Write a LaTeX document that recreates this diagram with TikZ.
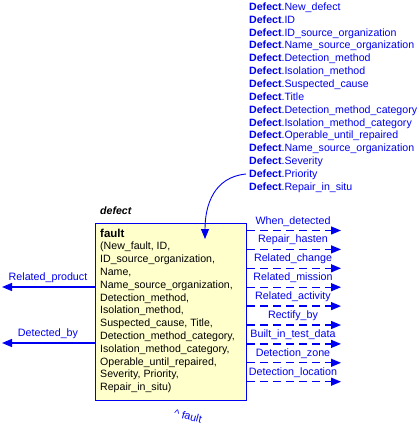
\documentclass[tikz,border=0pt]{standalone}
\usepackage{fontspec}
\setmainfont{Liberation Sans}
\usetikzlibrary{arrows.meta}
\definecolor{lblue}{RGB}{0,0,240}
\definecolor{boxfill}{RGB}{255,255,204}
\begin{document}
\begin{tikzpicture}[x=1pt,y=-1pt,
  lbl/.style={text=lblue,font=\fontsize{10.7}{12}\selectfont,inner sep=0pt},
  rel/.style={draw=lblue,line width=1.3pt,-{Triangle[length=10pt,width=8pt]}},
  drel/.style={rel,dash pattern=on 8pt off 5pt}]
\useasboundingbox (0,0) rectangle (419,429);
\node[draw=lblue,line width=1.3pt,fill=boxfill,anchor=north west,minimum width=151pt,minimum height=177pt,inner sep=0pt] (box) at (95,223) {};
\node[anchor=north west,align=left,inner sep=0pt,font=\fontsize{10.6}{12.8}\selectfont] (boxtxt) at (100,228.5)
 {\textbf{\fontsize{11.5}{12.8}\selectfont fault}\\(New\_fault, ID,\\ID\_source\_organization,\\Name,\\Name\_source\_organization,\\Detection\_method,\\Isolation\_method,\\Suspected\_cause, Title,\\Detection\_method\_category,\\Isolation\_method\_category,\\Operable\_until\_repaired,\\Severity, Priority,\\Repair\_in\_situ)};
\node[anchor=west,inner sep=0pt,font=\fontsize{10.6}{12}\selectfont\bfseries\itshape] (ename) at (100,211) {defect};
\node[anchor=north west,align=left,inner sep=0pt,text=lblue,font=\fontsize{10.6}{12.86}\selectfont] (attrs) at (249,2.5)
 {\textbf{Defect}.New\_defect\\\textbf{Defect}.ID\\\textbf{Defect}.ID\_source\_organization\\\textbf{Defect}.Name\_source\_organization\\\textbf{Defect}.Detection\_method\\\textbf{Defect}.Isolation\_method\\\textbf{Defect}.Suspected\_cause\\\textbf{Defect}.Title\\\textbf{Defect}.Detection\_method\_category\\\textbf{Defect}.Isolation\_method\_category\\\textbf{Defect}.Operable\_until\_repaired\\\textbf{Defect}.Name\_source\_organization\\\textbf{Defect}.Severity\\\textbf{Defect}.Priority\\\textbf{Defect}.Repair\_in\_situ};
\coordinate (cs) at (246,174);
\coordinate (ce) at (205,239);
\draw[draw=lblue,line width=0.9pt,-{Triangle[length=10pt,width=8pt]}] (cs) .. controls (214,177) and (205,205) .. (ce);
% right side
\foreach \i/\y/\t in {1/230.5/When\_detected,2/249.4/Repair\_hasten,3/268.3/Related\_change,4/287.2/Related\_mission,5/306.1/Related\_activity,6/325/Rectify\_by,7/343.9/Built\_in\_test\_data,8/362.8/Detection\_zone,9/381.7/Detection\_location}{
  \coordinate (r\i) at (341,\y);
  \draw[drel] (box.east |- r\i) -- (r\i);
  \node[lbl,anchor=base] (rl\i) at (293,\y-6.5) {\t};
}
% left side
\coordinate (l1) at (2,287);
\coordinate (l2) at (2,343);
\draw[rel] (box.west |- l1) -- (l1);
\draw[rel] (box.west |- l2) -- (l2);
\node[lbl,anchor=base] (ll1) at (48,280.5) {Related\_product};
\node[lbl,anchor=base] (ll2) at (48,336.5) {Detected\_by};
\node[lbl,rotate=-15] (sup) at (188,416) {\^{} fault};
\end{tikzpicture}
\end{document}
